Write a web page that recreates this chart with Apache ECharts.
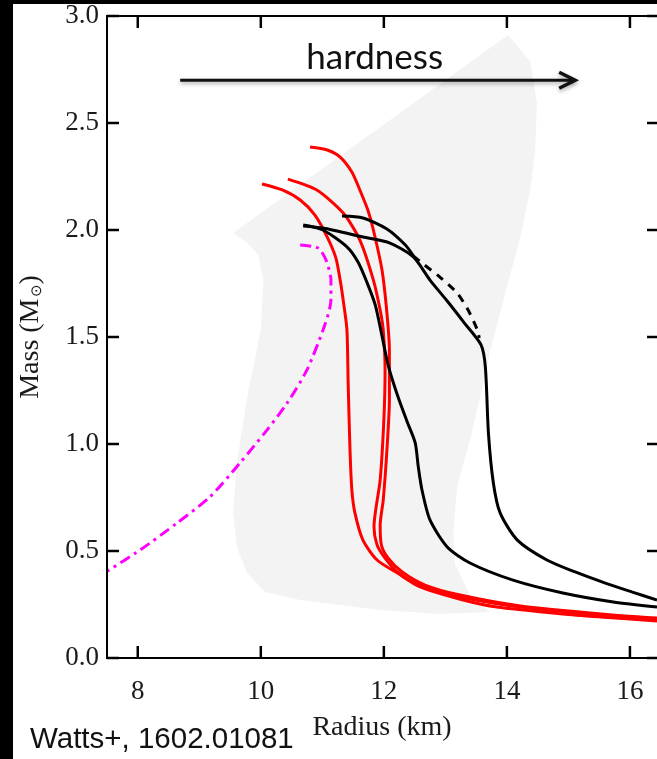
<!DOCTYPE html>
<html>
<head>
<meta charset="utf-8">
<script src="https://cdn.jsdelivr.net/npm/echarts@6/dist/echarts.min.js"></script>
<style>
  html, body { margin: 0; padding: 0; background: #fff; }
  #chart { width: 657px; height: 759px; }
</style>
</head>
<body>
<div id="chart"></div>
<script>
// Neutron-star mass–radius relations (radius in km, mass in solar masses)
const radiusRange = [7.5, 16.44];
const massRange = [0, 3];
const radiusTicks = [8, 10, 12, 14, 16];
const massTicks = [0, 0.5, 1.0, 1.5, 2.0, 2.5, 3.0];

// Allowed region (light grey band)
const constraintBand = [
  [14.02, 2.911], [14.38, 2.785], [14.49, 2.593], [14.46, 2.374], [14.38, 2.187],
  [14.22, 1.967], [14.00, 1.734], [13.73, 1.439], [13.68, 1.36], [13.40, 1.019],
  [13.19, 0.799], [13.13, 0.584], [13.16, 0.435], [13.40, 0.294], [13.73, 0.215],
  [12.91, 0.206], [11.94, 0.224], [10.64, 0.271], [10.07, 0.308], [9.78, 0.397],
  [9.61, 0.519], [9.55, 0.678], [9.61, 0.911], [9.78, 1.22], [10.00, 1.533],
  [10.04, 1.766], [9.96, 1.883], [9.79, 1.939], [9.55, 1.986]
];

// Red EOS curves
const redEos1 = [
  [10.02, 2.215], [10.35, 2.187], [10.64, 2.14], [10.88, 2.07], [11.08, 1.967],
  [11.22, 1.87], [11.29, 1.766], [11.35, 1.65], [11.40, 1.533], [11.42, 1.285],
  [11.45, 0.972], [11.48, 0.785], [11.53, 0.678], [11.66, 0.551], [11.89, 0.458],
  [12.22, 0.397], [12.59, 0.332], [13.29, 0.271], [13.84, 0.238], [14.91, 0.206],
  [15.52, 0.192], [16.44, 0.173]
];
const redEos2 = [
  [10.44, 2.238], [10.91, 2.187], [11.34, 2.079], [11.61, 1.953], [11.83, 1.766],
  [11.94, 1.626], [11.99, 1.533], [12.02, 1.346], [12.00, 1.112], [11.94, 0.832],
  [11.84, 0.612], [11.89, 0.528], [12.02, 0.467], [12.22, 0.402], [12.51, 0.35],
  [12.91, 0.308], [13.40, 0.276], [14.22, 0.238], [15.52, 0.201], [16.44, 0.182]
];
const redEos3 = [
  [10.80, 2.388], [11.08, 2.374], [11.29, 2.341], [11.48, 2.271], [11.61, 2.187],
  [11.74, 2.093], [11.83, 2.0], [11.97, 1.813], [12.05, 1.612], [12.09, 1.439],
  [12.09, 1.206], [12.05, 0.972], [11.99, 0.738], [11.94, 0.621], [11.96, 0.528],
  [12.07, 0.467], [12.30, 0.402], [12.67, 0.341], [13.24, 0.294], [14.22, 0.243],
  [15.52, 0.206], [16.44, 0.187]
];

// Black EOS curves
const blackEos1 = [
  [10.69, 2.023], [11.01, 2.0], [11.40, 1.921], [11.58, 1.85], [11.73, 1.752],
  [11.86, 1.65], [11.96, 1.519], [12.07, 1.369], [12.22, 1.229], [12.38, 1.103],
  [12.51, 1.005], [12.56, 0.893], [12.62, 0.785], [12.75, 0.645], [13.03, 0.519],
  [13.40, 0.444], [14.10, 0.364], [14.91, 0.304], [15.73, 0.262], [16.44, 0.238]
];
const blackEos2 = [
  [10.69, 2.019], [11.01, 2.009], [11.66, 1.967], [12.10, 1.939], [12.48, 1.874],
  [12.75, 1.766], [13.03, 1.668], [13.31, 1.565], [13.58, 1.463], [13.65, 1.36],
  [13.70, 1.051], [13.78, 0.818], [13.89, 0.678], [14.17, 0.551], [14.65, 0.458],
  [15.11, 0.402], [15.60, 0.350], [16.04, 0.308], [16.44, 0.271]
];
const blackEos3 = [
  [11.32, 2.065], [11.66, 2.056], [12.05, 2.005], [12.35, 1.93], [12.48, 1.879]
];
const blackEos3Dashed = [
  [12.48, 1.879], [12.64, 1.841], [12.91, 1.780], [13.19, 1.706], [13.37, 1.626],
  [13.52, 1.533], [13.55, 1.495]
];

// Magenta dash-dot curve
const strangeStar = [
  [10.64, 1.93], [10.93, 1.916], [11.06, 1.86], [11.14, 1.766], [11.14, 1.673],
  [11.04, 1.556], [10.75, 1.346], [10.43, 1.192], [10.10, 1.065], [9.66, 0.911],
  [9.17, 0.752], [8.64, 0.631], [8.04, 0.505], [7.5, 0.405]
];

// "hardness" arrow, start and end
const hardnessArrow = [[8.69, 2.70], [15.11, 2.70]];

const serif = '"Liberation Serif", "Times New Roman", serif';
const ink = '#1a1a1a';
const TICK_LEN = 12;

function curve(data, color, extra) {
  return Object.assign({
    type: 'line',
    data: data,
    showSymbol: false,
    smooth: 0.25,
    silent: true,
    lineStyle: { color: color, width: 3 },
    z: 3
  }, extra || {});
}

function stroke(x1, y1, x2, y2, w) {
  return { type: 'line', shape: { x1: x1, y1: y1, x2: x2, y2: y2 }, style: { stroke: '#000', lineWidth: w || 2 } };
}

const chart = echarts.init(document.getElementById('chart'), null, { renderer: 'canvas' });

chart.setOption({
  animation: false,
  backgroundColor: '#fff',
  grid: { left: 107, top: 16, bottom: 101, right: 0 },
  xAxis: {
    type: 'value', position: 'bottom', min: radiusRange[0], max: radiusRange[1],
    axisLine: { show: false },
    axisTick: { show: false },
    splitLine: { show: false },
    splitArea: { show: false },
    axisLabel: {
      show: true, customValues: radiusTicks, margin: 20,
      fontFamily: serif, fontSize: 27, color: ink
    },
    name: 'Radius (km)', nameLocation: 'middle', nameGap: 56,
    nameTextStyle: { fontFamily: serif, fontSize: 28, color: ink }
  },
  yAxis: {
    type: 'value', position: 'left', min: massRange[0], max: massRange[1], interval: 0.5,
    axisLine: { show: false },
    axisTick: { show: false },
    splitLine: { show: false },
    splitArea: { show: false },
    axisLabel: {
      show: true, margin: 8, fontFamily: serif, fontSize: 27, color: ink,
      formatter: v => v.toFixed(1)
    },
    name: 'Mass (M{s|⊙})', nameLocation: 'middle', nameGap: 62,
    nameTextStyle: {
      fontFamily: serif, fontSize: 28, color: ink,
      rich: { s: { fontSize: 15, fontFamily: serif, color: ink, padding: [12, 0, 0, 1] } }
    }
  },
  graphic: [
    { type: 'rect', shape: { x: 0, y: 0, width: 13, height: 759 }, style: { fill: '#000' }, z: 100 },
    { type: 'rect', shape: { x: 0, y: 0, width: 657, height: 4 }, style: { fill: '#000' }, z: 100 },
    {
      type: 'text', x: 30, y: 740, z: 100,
      style: {
        text: 'Watts+, 1602.01081', fill: '#111',
        font: '29.5px "Liberation Sans", Arial, sans-serif', verticalAlign: 'middle'
      }
    }
  ],
  series: [
    {
      type: 'custom',
      silent: true,
      data: constraintBand,
      z: 1,
      renderItem: function (params, api) {
        if (params.dataIndex !== 0) return null;
        const pts = constraintBand.map(p => api.coord(p));
        return { type: 'polygon', shape: { points: pts }, style: { fill: '#f3f3f3' } };
      }
    },
    // frame: left, bottom and top edges (right edge lies just past the canvas)
    {
      type: 'custom', silent: true, zlevel: 1, z: 100,
      data: [[radiusRange[0], massRange[0]]],
      renderItem: function (params, api) {
        const lb = api.coord([radiusRange[0], massRange[0]]);
        const lt = api.coord([radiusRange[0], massRange[1]]);
        const rb = api.coord([radiusRange[1], massRange[0]]);
        const rt = api.coord([radiusRange[1], massRange[1]]);
        return {
          type: 'group',
          children: [
            stroke(lb[0], lb[1] + 1, lt[0], lt[1] - 1),
            stroke(lb[0] - 1, lb[1], rb[0] + 2, rb[1]),
            stroke(lt[0] - 1, lt[1], rt[0] + 2, rt[1])
          ]
        };
      }
    },
    // inward radius ticks, bottom and top
    {
      type: 'custom', silent: true, zlevel: 1, z: 100,
      data: radiusTicks.map(v => [v, massRange[0]]),
      renderItem: function (params, api) {
        const v = radiusTicks[params.dataIndex];
        const b = api.coord([v, massRange[0]]);
        const t = api.coord([v, massRange[1]]);
        return {
          type: 'group',
          children: [
            stroke(b[0], b[1], b[0], b[1] - TICK_LEN, 2.5),
            stroke(t[0], t[1], t[0], t[1] + TICK_LEN, 2.5)
          ]
        };
      }
    },
    // inward mass ticks, left and right
    {
      type: 'custom', silent: true, zlevel: 1, z: 100,
      data: massTicks.map(m => [radiusRange[0], m]),
      renderItem: function (params, api) {
        const m = massTicks[params.dataIndex];
        const l = api.coord([radiusRange[0], m]);
        const r = api.coord([radiusRange[1], m]);
        return {
          type: 'group',
          children: [
            stroke(l[0], l[1], l[0] + TICK_LEN, l[1], 2.5),
            stroke(r[0] + 2, r[1], r[0] + 2 - TICK_LEN, r[1], 2.5)
          ]
        };
      }
    },
    curve(redEos1, '#ff0000'),
    curve(redEos2, '#ff0000'),
    curve(redEos3, '#ff0000'),
    curve(blackEos1, '#000000', { z: 4 }),
    curve(blackEos2, '#000000', { z: 4 }),
    curve(blackEos3, '#000000', { z: 4 }),
    curve(blackEos3Dashed, '#000000', { z: 4, lineStyle: { color: '#000', width: 3, type: [8, 7] } }),
    curve(strangeStar, '#ff00ff', { z: 5, lineStyle: { color: '#ff00ff', width: 3, type: [11, 5, 3, 5] } }),
    {
      type: 'custom',
      silent: true,
      data: hardnessArrow,
      z: 6,
      renderItem: function (params, api) {
        if (params.dataIndex !== 0) return null;
        const a = api.coord(hardnessArrow[0]);
        const b = api.coord(hardnessArrow[1]);
        const shade = { shadowBlur: 4, shadowColor: 'rgba(0,0,0,0.35)', shadowOffsetY: 2 };
        return {
          type: 'group',
          children: [
            {
              type: 'line',
              shape: { x1: a[0], y1: a[1], x2: b[0] - 2, y2: b[1] },
              style: Object.assign({ stroke: '#111', lineWidth: 3 }, shade)
            },
            {
              type: 'polyline',
              shape: { points: [[b[0] - 16, b[1] - 8], [b[0], b[1]], [b[0] - 16, b[1] + 8]] },
              style: Object.assign({ stroke: '#111', lineWidth: 3.5, fill: null, lineJoin: 'miter' }, shade)
            },
            {
              type: 'text',
              x: (a[0] + b[0]) / 2 - 3, y: a[1] - 22,
              style: {
                text: 'hardness', fill: '#111',
                font: '35px Lato, "Open Sans", sans-serif',
                align: 'center', verticalAlign: 'middle'
              }
            }
          ]
        };
      }
    }
  ]
});
</script>
</body>
</html>
